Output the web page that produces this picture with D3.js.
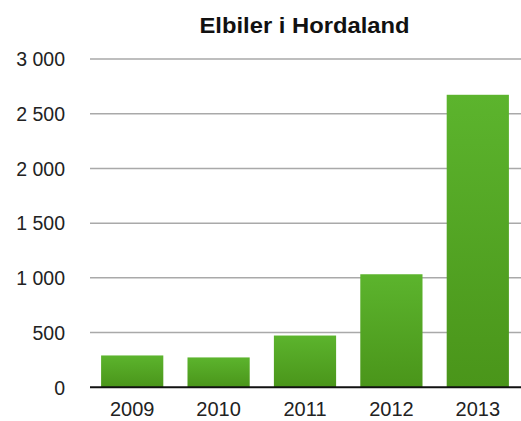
<!DOCTYPE html>
<html>
<head>
<meta charset="utf-8">
<script src="https://cdn.jsdelivr.net/npm/d3@7"></script>
<style>
  html, body { margin: 0; padding: 0; background: #fff; }
  svg { display: block; }
  text { font-family: "Liberation Sans", Arial, Helvetica, sans-serif; }
</style>
</head>
<body>
<div id="chart"></div>
<script>
const title = "Elbiler i Hordaland";
const years = ["2009", "2010", "2011", "2012", "2013"];
const values = [291, 273, 473, 1033, 2673];
const yTicks = [0, 500, 1000, 1500, 2000, 2500, 3000];

const W = 521, H = 421;
const margin = { top: 59, right: 0, bottom: 32, left: 89 };

const svg = d3.select("#chart").append("svg")
  .attr("width", W).attr("height", H);

const defs = svg.append("defs");
const grad = defs.append("linearGradient")
  .attr("id", "barGrad").attr("x1", 0).attr("y1", 0).attr("x2", 0).attr("y2", 1);
grad.append("stop").attr("offset", "0%").attr("stop-color", "#5cb42d");
grad.append("stop").attr("offset", "100%").attr("stop-color", "#4a951a");

const x = d3.scaleBand()
  .domain(years)
  .range([margin.left, W - margin.right])
  .paddingInner(0.28)
  .paddingOuter(0.14);

const y = d3.scaleLinear()
  .domain([0, 3000])
  .range([H - margin.bottom - 1.7, margin.top]);

const fmt = v => d3.format(",")(v).replace(/,/g, " ");

const yAxis = d3.axisLeft(y)
  .tickValues(yTicks)
  .tickSize(0)
  .tickPadding(0)
  .tickFormat(fmt);

const gy = svg.append("g")
  .attr("transform", `translate(${margin.left},0)`)
  .call(yAxis);
gy.select(".domain").remove();
gy.selectAll("text")
  .attr("x", -24)
  .attr("dy", "0.35em")
  .attr("fill", "#222")
  .style("font-size", "19.5px");

svg.append("g").selectAll("line.grid")
  .data(yTicks.filter(d => d > 0))
  .join("line")
  .attr("class", "grid")
  .attr("x1", margin.left + 1).attr("x2", W)
  .attr("y1", d => y(d)).attr("y2", d => y(d))
  .attr("stroke", "#a9a9a9").attr("stroke-width", 1.5);

svg.append("g").selectAll("rect")
  .data(years.map((yr, i) => ({ yr, v: values[i] })))
  .join("rect")
  .attr("x", d => x(d.yr))
  .attr("width", x.bandwidth())
  .attr("y", d => y(d.v))
  .attr("height", d => y(0) - y(d.v))
  .attr("fill", "url(#barGrad)");

svg.append("line")
  .attr("x1", margin.left + 1).attr("x2", W)
  .attr("y1", y(0)).attr("y2", y(0))
  .attr("stroke", "#111").attr("stroke-width", 2);

const xAxis = d3.axisBottom(x).tickSize(0).tickPadding(0);
const gx = svg.append("g")
  .attr("transform", `translate(0,${y(0)})`)
  .call(xAxis);
gx.select(".domain").remove();
gx.selectAll("text")
  .attr("y", 0)
  .attr("dy", 0)
  .attr("transform", "translate(0,28.5)")
  .attr("fill", "#222")
  .style("font-size", "20px");

svg.append("text")
  .attr("x", 304.5)
  .attr("y", 32.7)
  .attr("text-anchor", "middle")
  .attr("fill", "#111")
  .style("font-size", "21.5px")
  .style("font-weight", "bold")
  .attr("textLength", 210)
  .attr("lengthAdjust", "spacingAndGlyphs")
  .text(title);
</script>
</body>
</html>
